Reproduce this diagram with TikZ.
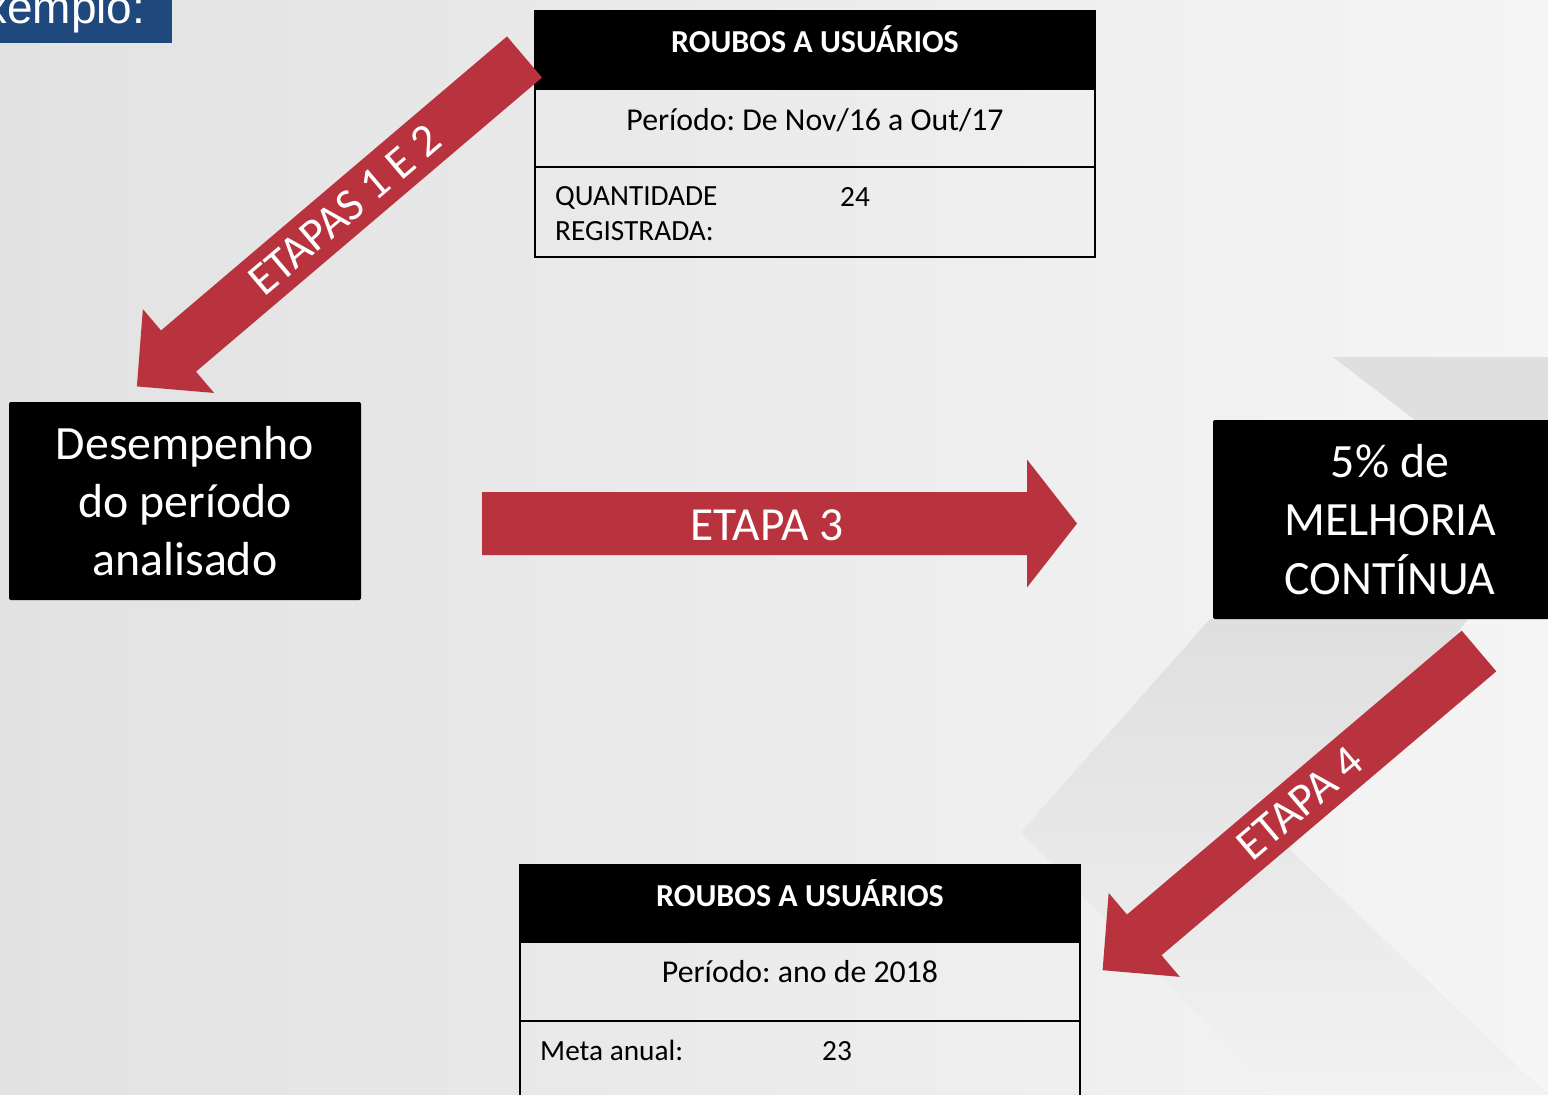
\documentclass[tikz,border=0pt]{standalone}
\usepackage{fontspec}
\setmainfont{Carlito}
\newfontfamily\arialfont{Liberation Sans}
\usetikzlibrary{positioning,calc}
\frenchspacing

\definecolor{arrowred}{RGB}{184,51,62}
\definecolor{labelblue}{RGB}{31,73,125}
\definecolor{bgleft}{RGB}{226,226,226}
\definecolor{bgright}{RGB}{245,245,245}
\definecolor{bgband}{RGB}{223,223,223}

% block arrow: name, tail, tip, half shaft, half head, head length
\newcommand{\blockarrow}[6]{%
  \coordinate (#1hb) at ($(#3)!#6!(#2)$);
  \fill[arrowred]
    ($(#2)!#4!90:(#3)$) -- ($(#1hb)!#4!90:(#3)$) -- ($(#1hb)!#5!90:(#3)$)
    -- (#3)
    -- ($(#1hb)!#5!-90:(#3)$) -- ($(#1hb)!#4!-90:(#3)$) -- ($(#2)!#4!-90:(#3)$)
    -- cycle;
}

\begin{document}
\begin{tikzpicture}[
				x=1pt,y=-1pt,
				line join=miter,
				tabline/.style={black, line width=2pt},
				hdrtext/.style={text=white, inner sep=0pt, font=\fontsize{32}{38}\selectfont\bfseries},
				celltext/.style={text=black, inner sep=0pt, font=\fontsize{31.8}{38}\selectfont},
				qtytext/.style={text=black, inner sep=0pt, font=\fontsize{29.3}{35}\selectfont},
				bigbox/.style={fill=black, rounded corners=2pt, text=white, align=center, inner sep=0pt, font=\fontsize{47.8}{58.3}\selectfont},
				steptext/.style={text=white, inner sep=0pt, font=\fontsize{46}{54}\selectfont}
				]
				% ---- background
				\useasboundingbox (0,0) rectangle (1548,1095);
				\shade[left color=bgleft, right color=bgright] (0,0) rectangle (1548,1095);
				\fill[bgband] (1333,357) -- (1548,357) -- (1548,420) -- (1415,420) -- cycle;
				\shade[top color=bgband, bottom color=bgright!85!bgband]
				(1210,619) -- (1468,619) -- (1290,850) -- (1548,1095) -- (1276,1095) -- (1021,832) -- cycle;
				
				% ---- label
				\fill[labelblue] (0,0) rectangle (172,43);
				\node[text=white, inner sep=0pt, anchor=base west, font=\arialfont\fontsize{46}{52}\selectfont] (exlabel) at (-16,23) {xemplo:};
				
				% ---- top table
				\def\tAl{535}
				\def\tAr{1095}
				\fill[black] (\tAl,11) rectangle (\tAr,90);
				\draw[tabline] (\tAl,11) rectangle (\tAr,257);
				\draw[tabline] (\tAl,167) -- (\tAr,167);
				\node[hdrtext, anchor=base] (hdrA) at (815,52) {ROUBOS A USUÁRIOS};
				\node[celltext, anchor=base] (perA) at (815,130) {Período: De Nov/16 a Out/17};
				\node[qtytext, anchor=base west] (qtdA) at (555,205) {QUANTIDADE};
				\node[qtytext, anchor=base west] (regA) at (555,240) {REGISTRADA:};
				\node[qtytext, anchor=base west] (valA) at (840,206) {24};
				
				% ---- bottom table
				\def\tBl{520}
				\def\tBr{1080}
				\fill[black] (\tBl,865) rectangle (\tBr,943);
				\draw[tabline] (\tBl,865) rectangle (\tBr,1115);
				\draw[tabline] (\tBl,1021) -- (\tBr,1021);
				\node[hdrtext, anchor=base] (hdrB) at (800,906) {ROUBOS A USUÁRIOS};
				\node[celltext, anchor=base] (perB) at (800,982) {Período: ano de 2018};
				\node[qtytext, anchor=base west] (metaB) at (540,1060) {Meta anual:};
				\node[qtytext, anchor=base west] (valB) at (822,1060) {23};
				
				% ---- boxes
				\node[bigbox, minimum width=352pt, minimum height=198pt] (desemp) at (185,501) {Desempenho\\do período\\analisado};
				\node[bigbox, minimum width=354pt, minimum height=199pt] (melhoria) at (1390,519.5) {5\% de\\MELHORIA\\CONTÍNUA};
				
				% ---- arrows
				\coordinate (e12tail) at (524.5,57);
				\coordinate (e12tip) at (136.9,386.4);
				\blockarrow{e12}{e12tail}{e12tip}{27pt}{55pt}{54.6pt}
				\node[steptext, rotate=40.35] (e12lbl) at ($(e12tail)!0.52!(e12hb)$) {ETAPAS 1 E 2};
				
				\coordinate (e3tail) at (482,523.5);
				\coordinate (e3tip) at (1077,523.5);
				\blockarrow{e3}{e3tail}{e3tip}{31.5pt}{64pt}{50pt}
				\node[steptext, anchor=base, font=\fontsize{47.5}{56}\selectfont] (e3lbl) at (767,540) {ETAPA 3};
				
				\coordinate (e4tail) at (1479,651);
				\coordinate (e4tip) at (1102.6,970.2);
				\blockarrow{e4}{e4tail}{e4tip}{26.7pt}{55pt}{54.6pt}
				\node[steptext, rotate=40.3] (e4lbl) at ($(e4tail)!0.535!(e4hb)$) {ETAPA 4};
			\end{tikzpicture}
\end{document}
